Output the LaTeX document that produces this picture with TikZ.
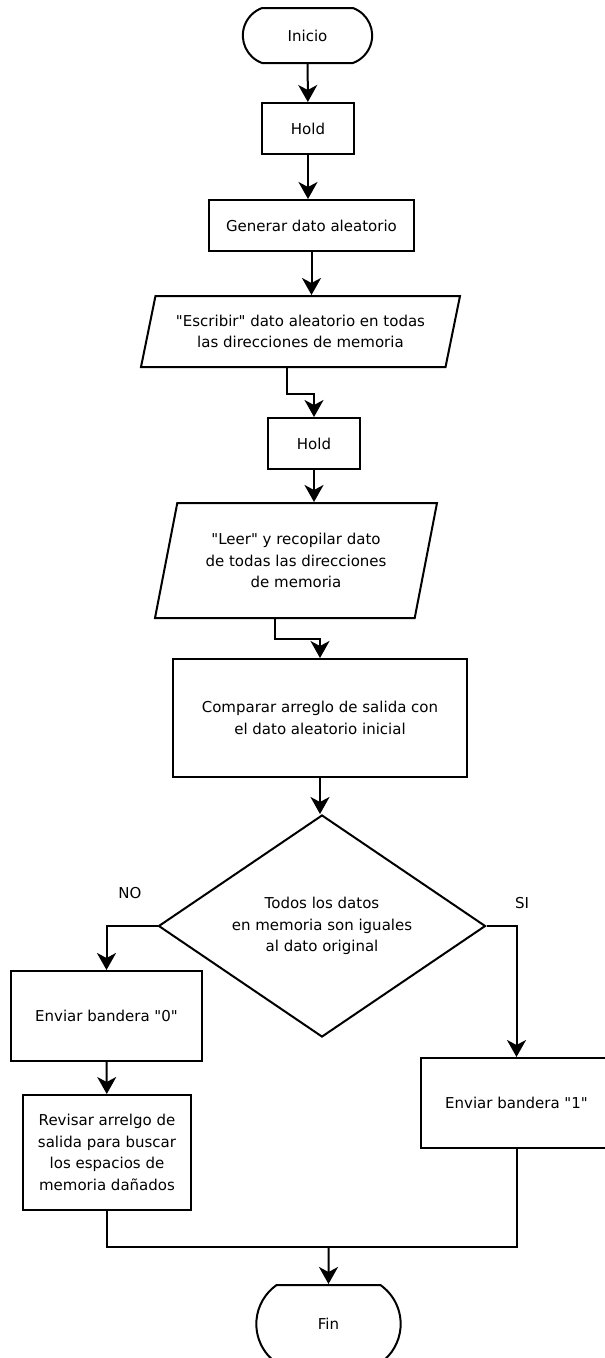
\documentclass[tikz,border=0pt]{standalone}
\usepackage{fontspec}
\setmainfont{DejaVu Sans}[Ligatures=TeXOff]
\usetikzlibrary{shapes.geometric, shapes.misc, arrows.meta}

\begin{document}
\begin{tikzpicture}[node distance=100pt, line width=2pt]
    % Styles
    \tikzstyle{terminal} = [rounded rectangle, rounded rectangle arc length=140, draw, line width=2pt,
        font=\fontsize{15}{21.5}\selectfont, minimum width=136pt, minimum height=55pt]
    \tikzstyle{process} = [rectangle, draw, align=center, line width=2pt,
        font=\fontsize{15}{21.5}\selectfont, minimum width=92pt, minimum height=51pt]
    \tikzstyle{iodata} = [trapezium, trapezium left angle=70, trapezium right angle=110,
        trapezium stretches body, draw, align=center, line width=2pt, font=\fontsize{15}{21.5}\selectfont]
    \tikzstyle{decision} = [diamond, aspect=1.47, draw, align=center, line width=2pt,
        font=\fontsize{15}{21.5}\selectfont, minimum width=327pt, minimum height=222pt]
    \tikzstyle{branchlabel} = [font=\fontsize{15}{21.5}\selectfont]
    \tikzstyle{arrow} = [line width=2pt, -{Stealth[length=17pt, width=19pt, inset=5pt]}]
    \tikzstyle{joinline} = [line width=2pt, -]

    \useasboundingbox (0,0) rectangle (605pt,-1358pt);

    % === MAIN COLUMN ===
    \node [terminal] (inicio) at (307.5pt,-35.5pt) {Inicio};
    \node [process, node distance=93pt, below of=inicio, xshift=0.5pt] (hold1) {Hold};
    \node [process, node distance=97pt, below of=hold1, xshift=3.5pt, minimum width=205pt] (generar) {Generar dato aleatorio};
    \node [iodata, node distance=106pt, below of=generar, xshift=-11pt, minimum width=319pt, minimum height=71pt] (escribir) {"Escribir" dato aleatorio en todas\\las direcciones de memoria};
    \node [process, node distance=112pt, below of=escribir, xshift=13.5pt] (hold2) {Hold};
    \node [iodata, node distance=117pt, below of=hold2, xshift=-18pt, minimum width=282pt, minimum height=115pt] (leer) {"Leer" y recopilar dato\\de todas las direcciones\\de memoria};
    \node [process, node distance=157.5pt, below of=leer, xshift=24pt, minimum width=294pt, minimum height=118pt] (comparar) {Comparar arreglo de salida con\\el dato aleatorio inicial};
    \node [decision, node distance=208pt, below of=comparar, xshift=2pt] (todos) {Todos los datos\\en memoria son iguales\\al dato original};

    % === BRANCHES ===
    \node [process, node distance=90pt, below of=todos, xshift=-215.5pt, minimum width=191pt, minimum height=90pt] (bandera0) {Enviar bandera "0"};
    \node [process, node distance=136.5pt, below of=bandera0, xshift=0.5pt, minimum width=168pt, minimum height=115pt] (revisar) {Revisar arrelgo de\\salida para buscar\\los espacios de\\memoria dañados};
    \node [process, node distance=177pt, below of=todos, xshift=194.5pt, minimum width=191pt, minimum height=90pt] (bandera1) {Enviar bandera "1"};
    \node [terminal, rounded rectangle arc length=110, node distance=398pt, below of=todos, xshift=6.5pt, minimum width=151pt, minimum height=78pt] (fin) {Fin};
    \coordinate [node distance=77pt, above of=fin] (junta);

    % === Labels ===
    \node [branchlabel, node distance=192pt, left of=todos, yshift=33pt] (no) {NO};
    \node [branchlabel, node distance=200pt, right of=todos, yshift=23pt] (si) {SI};

    % === ARROWS ===
    \draw [arrow] (inicio) -- (hold1);
    \draw [arrow] (hold1) -- (hold1 |- generar.north);
    \draw [arrow] (generar) -- (generar |- escribir.north);
    \draw [arrow] ([xshift=-13.5pt]escribir.south) -- ++(0,-26pt) -| (hold2);
    \draw [arrow] (hold2) -- (hold2 |- leer.north);
    \draw [arrow] ([xshift=-21pt]leer.south) -- ++(0,-20pt) -| (comparar);
    \draw [arrow] (comparar) -- (comparar |- todos.north);
    \draw [arrow] (todos.west) -| (bandera0);
    \draw [arrow] (todos.east) -| (bandera1);
    \draw [arrow] (bandera0) -- (revisar);
    \draw [joinline] (revisar) |- (junta) -| (bandera1);
    \draw [arrow] (junta) -- (fin);
\end{tikzpicture}
\end{document}
